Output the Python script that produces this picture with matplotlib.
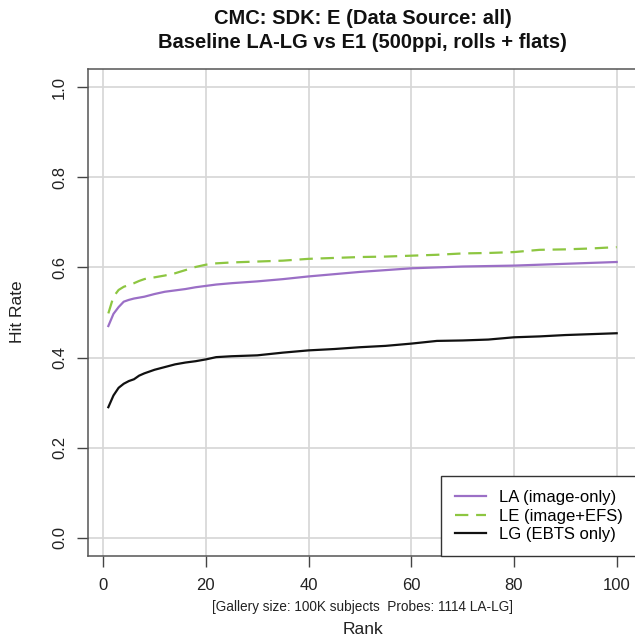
import matplotlib
matplotlib.use("Agg")
import matplotlib.pyplot as plt

plt.rcParams['font.family'] = ['Liberation Sans', 'DejaVu Sans']

ranks = [1, 2, 3, 4, 5, 6, 7, 8, 9, 10, 12, 14, 16, 18, 20, 22, 25, 30, 35, 40,
         45, 50, 55, 60, 65, 70, 75, 80, 85, 90, 95, 100]

la_hit = [0.470, 0.497, 0.512, 0.524, 0.528, 0.531, 0.533, 0.535, 0.538, 0.541,
          0.546, 0.549, 0.552, 0.556, 0.559, 0.562, 0.565, 0.569, 0.574, 0.580,
          0.585, 0.590, 0.594, 0.598, 0.600, 0.602, 0.603, 0.604, 0.606, 0.608,
          0.610, 0.612]
le_hit = [0.498, 0.535, 0.550, 0.557, 0.561, 0.565, 0.570, 0.574, 0.577, 0.578,
          0.582, 0.587, 0.594, 0.601, 0.606, 0.609, 0.611, 0.613, 0.615, 0.619,
          0.621, 0.623, 0.624, 0.626, 0.628, 0.631, 0.632, 0.634, 0.639, 0.640,
          0.642, 0.645]
lg_hit = [0.290, 0.316, 0.333, 0.342, 0.348, 0.352, 0.360, 0.365, 0.369, 0.373,
          0.379, 0.385, 0.389, 0.392, 0.396, 0.401, 0.403, 0.405, 0.411, 0.416,
          0.419, 0.423, 0.426, 0.431, 0.437, 0.438, 0.440, 0.445, 0.447, 0.450,
          0.452, 0.454]

labels = ["LA (image-only)", "LE (image+EFS)", "LG (EBTS only)"]
x_ticks = [0, 20, 40, 60, 80, 100]
y_ticks = [0.0, 0.2, 0.4, 0.6, 0.8, 1.0]

W, H = 635, 639
fig = plt.figure(figsize=(W / 100, H / 100), dpi=100)

# axes box in pixels (right edge runs past the image like the original)
left, right, top, bottom = 88, 637, 69, 556
ax = fig.add_axes([left / W, 1 - bottom / H, (right - left) / W, (bottom - top) / H])

grid_col = '#d6d6d6'
for t in x_ticks:
    ax.axvline(t, color=grid_col, lw=1.2, zorder=0)
for t in y_ticks:
    ax.axhline(t, color=grid_col, lw=1.2, zorder=0)

ax.plot(ranks, la_hit, color='#9B6FC6', lw=1.6, label=labels[0])
ax.plot(ranks, le_hit, color='#8DC641', lw=1.6, dashes=(6, 3.5), label=labels[1])
ax.plot(ranks, lg_hit, color='#111111', lw=1.6, label=labels[2])

ax.set_xlim(-2.96, 103.96)
ax.set_ylim(-0.04, 1.04)
ax.set_xticks(x_ticks)
ax.set_yticks(y_ticks)
ax.set_xticklabels([str(t) for t in x_ticks])
ax.set_yticklabels(["%.1f" % t for t in y_ticks], rotation=90, va='center')
ax.tick_params(axis='both', direction='out', length=8, width=1, color='#444444',
               labelsize=12, labelcolor='#222222')
ax.tick_params(axis='x', pad=8)
ax.tick_params(axis='y', pad=7)
for s in ax.spines.values():
    s.set_color('#555555')
    s.set_linewidth(1.1)

leg = ax.legend(loc='lower right', fontsize=12, frameon=True, fancybox=False,
                framealpha=1, edgecolor='#333333', borderaxespad=0,
                handlelength=1.9, handletextpad=0.75, labelspacing=0.2,
                borderpad=0.85)
leg.get_frame().set_linewidth(1.0)

cx = (left + right) / 2 / W
fig.text(cx, 1 - 18 / H, "CMC: SDK: E (Data Source: all)", ha='center', va='center',
         fontsize=14.5, fontweight='bold', color='#111111')
fig.text(cx, 1 - 43 / H, "Baseline LA-LG vs E1 (500ppi, rolls + flats)", ha='center',
         va='center', fontsize=14.5, fontweight='bold', color='#111111')
fig.text(cx, 1 - 607 / H, "[Gallery size: 100K subjects  Probes: 1114 LA-LG]",
         ha='center', va='center', fontsize=9.8, color='#222222')
fig.text(cx, 1 - 629 / H, "Rank", ha='center', va='center', fontsize=12.5, color='#222222')
fig.text(18 / W, 1 - 312 / H, "Hit Rate", ha='center', va='center', rotation=90,
         fontsize=12.5, color='#222222')

fig.savefig("out.png", dpi=100)
